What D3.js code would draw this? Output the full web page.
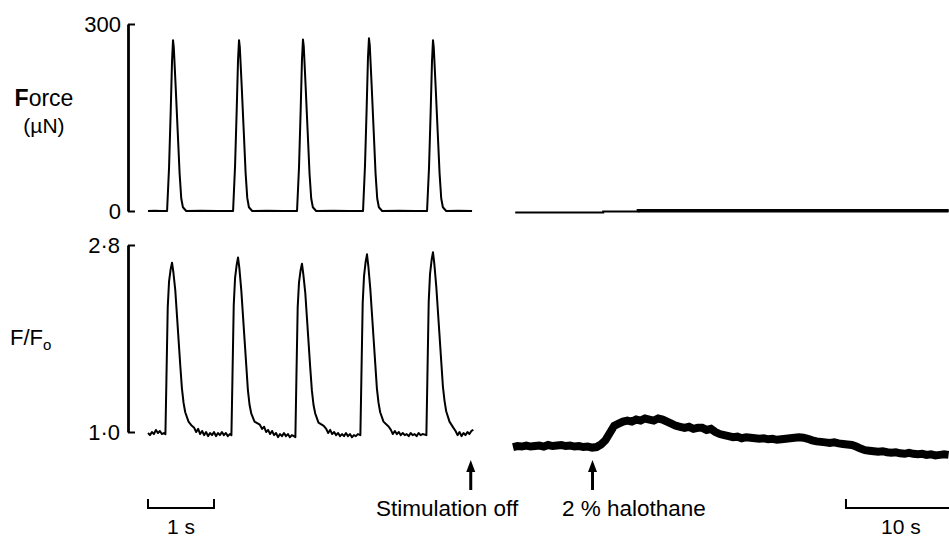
<!DOCTYPE html>
<html>
<head>
<meta charset="utf-8">
<script src="https://cdn.jsdelivr.net/npm/d3@7"></script>
<style>
  html, body { margin: 0; padding: 0; background: #fff; }
  svg { display: block; font-family: "Liberation Sans", Arial, Helvetica, sans-serif; }
</style>
</head>
<body>
<svg id="chart" width="949" height="538"></svg>
<script>
// ---------------- DATA ----------------
const forceTicks = [0, 300];
const fluoTicks = [1.0, 2.8];

// Left panel (paced at ~1 Hz): [time s, force µN]
const forceLeft = [
  [0.00,0],[0.10,0.5],[0.20,0],[0.289,0],
  [0.319,70],[0.344,160],[0.364,240],[0.379,274],[0.391,262],[0.419,200],[0.449,130],[0.479,60],[0.504,20],[0.529,6],[0.579,0],
  [0.80,0.5],[1.05,0],[1.289,0],
  [1.319,72],[1.344,162],[1.364,242],[1.379,274],[1.391,263],[1.419,202],[1.449,132],[1.479,61],[1.504,21],[1.529,6],[1.579,0],
  [1.80,0.5],[2.05,0],[2.258,0],
  [2.288,70],[2.313,161],[2.333,243],[2.348,275],[2.360,264],[2.388,201],[2.418,130],[2.448,59],[2.473,20],[2.498,6],[2.548,0],
  [2.80,0.5],[3.05,0],[3.258,0],
  [3.288,73],[3.313,165],[3.333,246],[3.348,277],[3.360,266],[3.388,203],[3.418,132],[3.448,60],[3.473,20],[3.498,6],[3.548,0],
  [3.80,0.5],[4.05,0],[4.228,0],
  [4.258,70],[4.283,160],[4.303,240],[4.318,274],[4.330,262],[4.358,200],[4.388,130],[4.418,60],[4.443,20],[4.468,6],[4.518,0],
  [4.70,0.5],[4.91,0]
];

// Left panel: [time s, F/Fo]
const fluoLeft = [
  [0.00,0.99],[0.03,0.97],[0.06,1.00],[0.09,0.98],[0.12,1.02],[0.15,0.99],[0.18,1.01],[0.21,0.98],[0.24,0.99],
  [0.264,0.98],[0.279,1.50],[0.299,2.20],[0.319,2.45],[0.344,2.57],[0.364,2.63],[0.384,2.54],[0.414,2.36],[0.439,2.12],[0.464,1.88],[0.489,1.64],[0.514,1.42],[0.539,1.28],[0.564,1.19],[0.614,1.10],[0.664,1.06],
  [0.70,1.04],[0.73,1.00],[0.76,1.03],[0.79,0.98],[0.82,1.01],[0.85,0.97],[0.88,1.00],[0.91,0.96],[0.94,0.99],[0.97,0.97],[1.00,1.00],[1.03,0.96],[1.06,0.99],[1.09,0.97],[1.12,1.00],[1.15,0.97],[1.18,0.99],[1.21,0.96],[1.24,0.98],
  [1.264,0.97],[1.279,1.50],[1.299,2.22],[1.319,2.48],[1.344,2.61],[1.364,2.68],[1.384,2.58],[1.414,2.36],[1.439,2.12],[1.464,1.88],[1.489,1.64],[1.514,1.40],[1.539,1.26],[1.564,1.18],[1.614,1.10],[1.694,1.07],
  [1.73,1.03],[1.76,1.05],[1.79,1.00],[1.82,1.02],[1.85,0.98],[1.88,1.01],[1.91,0.97],[1.94,0.99],[1.97,0.95],[2.00,0.98],[2.03,0.96],[2.06,0.99],[2.09,0.96],[2.12,0.98],[2.15,0.95],[2.18,0.97],[2.21,0.96],
  [2.233,0.95],[2.248,1.50],[2.268,2.20],[2.288,2.44],[2.313,2.56],[2.333,2.62],[2.353,2.52],[2.383,2.34],[2.408,2.10],[2.433,1.86],[2.458,1.62],[2.483,1.40],[2.508,1.26],[2.533,1.18],[2.583,1.09],[2.663,1.06],
  [2.70,1.03],[2.73,0.99],[2.76,1.02],[2.79,0.98],[2.82,1.00],[2.85,0.97],[2.88,0.99],[2.91,0.96],[2.94,0.98],[2.97,0.96],[3.00,0.99],[3.03,0.96],[3.06,0.98],[3.09,0.95],[3.12,0.97],[3.15,0.96],[3.18,0.98],
  [3.218,0.97],[3.233,1.52],[3.253,2.24],[3.273,2.50],[3.298,2.64],[3.318,2.71],[3.338,2.60],[3.368,2.38],[3.393,2.14],[3.418,1.90],[3.443,1.66],[3.468,1.42],[3.493,1.28],[3.518,1.19],[3.568,1.10],[3.648,1.05],
  [3.68,1.02],[3.71,0.98],[3.74,1.01],[3.77,0.98],[3.80,1.00],[3.83,0.97],[3.86,0.99],[3.89,0.97],[3.92,0.98],[3.95,0.96],[3.98,0.99],[4.01,0.97],[4.04,0.98],[4.07,0.96],[4.10,0.99],[4.13,0.97],[4.16,0.98],
  [4.218,0.97],[4.233,1.52],[4.253,2.25],[4.273,2.52],[4.298,2.66],[4.318,2.73],[4.338,2.62],[4.368,2.40],[4.393,2.16],[4.418,1.92],[4.443,1.68],[4.468,1.44],[4.493,1.30],[4.518,1.20],[4.568,1.10],[4.628,1.04],
  [4.66,1.01],[4.69,0.97],[4.72,1.00],[4.75,0.96],[4.78,0.99],[4.81,0.97],[4.84,1.00],[4.87,0.98],[4.90,1.01],[4.93,1.02]
];

// Right panel (stimulation off, slow time base): [time s, force µN]
const forceRight = [[0.2,-2.5],[8.2,-2.5],[8.2,-1],[11.4,-1],[11.4,0.5],[39.6,0.5]];
const forceRightThickFrom = 11.4;

// Right panel F/Fo, sampled every fluoRightStep seconds
const fluoRightStep = 0.4;
const fluoRight = [
  0.855,0.865,0.86,0.87,0.86,0.865,0.87,0.86,0.875,0.865,
  0.87,0.875,0.865,0.87,0.86,0.865,0.855,0.86,0.85,0.855,
  0.88,0.92,0.99,1.06,1.08,1.10,1.11,1.10,1.12,1.11,
  1.13,1.12,1.11,1.13,1.12,1.10,1.08,1.06,1.05,1.04,
  1.05,1.03,1.04,1.04,1.02,1.03,1.00,0.98,0.97,0.96,
  0.95,0.955,0.94,0.95,0.945,0.94,0.935,0.94,0.93,0.935,
  0.925,0.93,0.935,0.94,0.945,0.95,0.945,0.935,0.92,0.91,
  0.905,0.90,0.895,0.90,0.89,0.885,0.88,0.875,0.86,0.84,
  0.825,0.82,0.815,0.81,0.815,0.805,0.80,0.805,0.795,0.79,
  0.80,0.79,0.785,0.79,0.78,0.785,0.775,0.78,0.785,0.78
];

const markers = [
  { panel: "left",  t: 4.89, label: "Stimulation off" },
  { panel: "right", t: 7.23, label: "2 % halothane" }
];
const scaleBars = [
  { panel: "left",  t0: 0,     dur: 1,  label: "1 s" },
  { panel: "right", t0: 30.27, dur: 10, label: "10 s" }
];

// ---------------- DRAW ----------------
const svg = d3.select("#chart");
svg.append("rect").attr("width", 949).attr("height", 538).attr("fill", "#fff");

const xLeft  = d3.scaleLinear().domain([0, 1]).range([148, 214]);
const xRight = d3.scaleLinear().domain([0, 10]).range([513, 623]);
const yForce = d3.scaleLinear().domain([0, 300]).range([211, 24]);
const yFluo  = d3.scaleLinear().domain([1.0, 2.8]).range([432, 245]);
const xs = { left: xLeft, right: xRight };

// Axes (calibration bars)
const fmtDot = d => d3.format(".1f")(d).replace(".", "\u00B7");
const axF = svg.append("g").attr("transform", "translate(128,0)")
  .call(d3.axisLeft(yForce).tickValues(forceTicks).tickSizeInner(-7).tickSizeOuter(0).tickPadding(7).tickFormat(d3.format("d")));
const axR = svg.append("g").attr("transform", "translate(128,0)")
  .call(d3.axisLeft(yFluo).tickValues(fluoTicks).tickSizeInner(-7).tickSizeOuter(0).tickPadding(8).tickFormat(fmtDot));
[axF, axR].forEach(g => {
  g.selectAll("path.domain").attr("stroke", "#000").attr("stroke-width", 2.8);
  g.selectAll(".tick line").attr("stroke", "#000").attr("stroke-width", 2);
  g.selectAll(".tick text").attr("fill", "#000").style("font-size", "22px")
    .style("font-family", "'Liberation Sans', Arial, sans-serif");
});

// Axis titles
const tF = svg.append("text").attr("x", 44).attr("y", 106).attr("text-anchor", "middle")
  .style("font-size", "23px");
tF.append("tspan").attr("font-weight", "bold").text("F");
tF.append("tspan").text("orce");
svg.append("text").attr("x", 44).attr("y", 133).attr("text-anchor", "middle")
  .style("font-size", "21px").text("(\u00B5N)");
const tR = svg.append("text").attr("x", 10).attr("y", 345).style("font-size", "22px");
tR.append("tspan").text("F/F");
tR.append("tspan").attr("dy", 5).style("font-size", "15px").text("o");

// Traces
const lineL = (y) => d3.line().x(d => xLeft(d[0])).y(d => y(d[1]));
svg.append("path").datum(forceLeft).attr("d", lineL(yForce))
  .attr("fill", "none").attr("stroke", "#000").attr("stroke-width", 2).attr("stroke-linejoin", "round");
svg.append("path").datum(fluoLeft).attr("d", lineL(yFluo))
  .attr("fill", "none").attr("stroke", "#000").attr("stroke-width", 2).attr("stroke-linejoin", "round");

const lineR = d3.line().x(d => xRight(d[0])).y(d => yForce(d[1]));
svg.append("path").datum(forceRight).attr("d", lineR)
  .attr("fill", "none").attr("stroke", "#000").attr("stroke-width", 2);
svg.append("path").datum(forceRight.filter(d => d[0] >= forceRightThickFrom)).attr("d", lineR)
  .attr("fill", "none").attr("stroke", "#000").attr("stroke-width", 3.5);

const fr = fluoRight.map((v, i) => [i * fluoRightStep, v]);
svg.append("path").datum(fr)
  .attr("d", d3.line().x(d => xRight(d[0])).y(d => yFluo(d[1])))
  .attr("fill", "none").attr("stroke", "#000").attr("stroke-width", 8).attr("stroke-linejoin", "miter");

// Markers (arrows + labels)
const markerTextX = { "Stimulation off": 376, "2 % halothane": 562 };
markers.forEach(m => {
  const x = xs[m.panel](m.t);
  const tip = 460, bottom = 490;
  svg.append("line").attr("x1", x).attr("x2", x).attr("y1", tip + 10).attr("y2", bottom)
    .attr("stroke", "#000").attr("stroke-width", 3);
  svg.append("path").attr("d", `M${x},${tip} L${x - 4.5},${tip + 12} L${x + 4.5},${tip + 12} Z`).attr("fill", "#000");
  svg.append("text").attr("x", markerTextX[m.label]).attr("y", 516)
    .style("font-size", "22.5px").text(m.label);
});

// Time scale bars
scaleBars.forEach(b => {
  const sx = xs[b.panel];
  const x0 = sx(b.t0), x1 = sx(b.t0 + b.dur);
  svg.append("path").attr("d", `M${x0},499 V508 H${x1} V499`)
    .attr("fill", "none").attr("stroke", "#000").attr("stroke-width", 2);
  svg.append("text").attr("x", (x0 + x1) / 2).attr("y", 534).attr("text-anchor", "middle")
    .style("font-size", "21px").text(b.label);
});
</script>
</body>
</html>
